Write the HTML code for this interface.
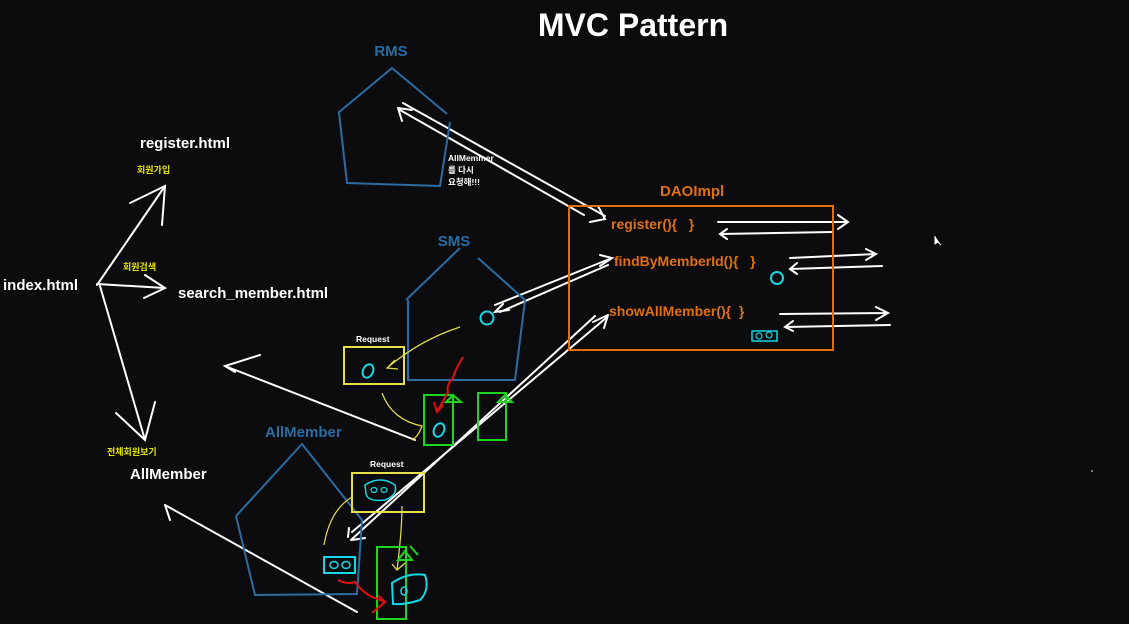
<!DOCTYPE html>
<html><head><meta charset="utf-8"><style>
html,body{margin:0;padding:0;background:#0c0b0d;}
svg{display:block;}
text{font-family:"Liberation Sans","Noto Sans CJK KR",sans-serif;font-weight:bold;}
</style></head><body>
<svg width="1129" height="624" viewBox="0 0 1129 624" xmlns="http://www.w3.org/2000/svg">
<rect width="1129" height="624" fill="#0c0b0d"/>
<text x="633" y="36" fill="#fff" font-size="32" text-anchor="middle">MVC Pattern</text>

<!-- left page labels -->
<text x="140" y="148" fill="#fff" font-size="15">register.html</text>
<text x="137" y="173" fill="#e6e600" font-size="9">회원가입</text>
<text x="3" y="290" fill="#fff" font-size="15">index.html</text>
<text x="123" y="270" fill="#e6e600" font-size="9">회원검색</text>
<text x="178" y="298" fill="#fff" font-size="15">search_member.html</text>
<text x="107" y="455" fill="#e6e600" font-size="9">전체회원보기</text>
<text x="130" y="479" fill="#fff" font-size="15">AllMember</text>

<g stroke="#fff" stroke-width="2" fill="none" stroke-linecap="round">
<path d="M97 285 L165 186 M130 203 L165 186 L162 225"/>
<path d="M97 284 L165 288 M145 275 L165 288 L144 298"/>
<path d="M100 286 L145 440 M116 413 L145 440 L155 402"/>
<path d="M415 440 L225 366 M260 355 L225 366 L235 372"/>
<path d="M357 612 L165 505 M165 505 L170 520"/>
<!-- RMS double -->
<path d="M403 103 L605 216 M400 110 L584 215 M398 108 L402 121 M398 108 L412 110 M590 222 L605 219 L598 206"/>
<!-- SMS double -->
<path d="M612 258 L495 305 M608 265 L500 312 M600 255 L612 258 L600 266 M503 304 L495 312 L509 310"/>
<!-- AllMember double -->
<path d="M606 318 L352 532 M595 316 L351 540 M608 315 L593 322 M608 315 L604 328 M349 528 L348 537 M352 540 L365 538"/>
<!-- DAO side arrows -->
<path d="M718 222 L848 222 M838 215 L848 222 L838 229 M832 232 L720 234 M727 229 L720 234 L727 239"/>
<path d="M790 258 L876 254 M866 249 L876 254 L866 260 M882 266 L790 269 M797 263 L790 269 L797 274"/>
<path d="M780 314 L888 313 M876 307 L888 313 L876 320 M890 325 L785 327 M793 321 L785 327 L793 331"/>
</g>

<!-- blue pentagons -->
<g stroke="#2a6ca3" stroke-width="2" fill="none">
<path d="M338 113 L392 68 L447 114 M450 122 L440 186 L347 183 L339 113"/>
<path d="M406 300 L460 248 M478 258 L525 300 M525 300 L515 380 L408 380 L408 300"/>
<path d="M236 516 L302 444 L362 520 L357 594 L255 595 L236 516"/>
</g>
<text x="391" y="56" fill="#2a6ca3" font-size="15" text-anchor="middle">RMS</text>
<text x="454" y="246" fill="#2a6ca3" font-size="15" text-anchor="middle">SMS</text>
<text x="265" y="437" fill="#2a6ca3" font-size="15">AllMember</text>
<text x="448" y="161" fill="#fff" font-size="8.5">AllMemmer</text>
<text x="448" y="173" fill="#fff" font-size="8.5">를 다시</text>
<text x="448" y="185" fill="#fff" font-size="8.5">요청해!!!</text>

<!-- DAOImpl -->
<rect x="569" y="206" width="264" height="144" fill="none" stroke="#e07010" stroke-width="2"/>
<text x="660" y="196" fill="#e07010" font-size="15">DAOImpl</text>
<text x="611" y="229" fill="#e07010" font-size="14">register(){&#160;&#160;&#160;}</text>
<text x="614" y="266" fill="#e07010" font-size="14">findByMemberId(){&#160;&#160;&#160;}</text>
<text x="609" y="316" fill="#e07010" font-size="14">showAllMember(){&#160;&#160;}</text>
<circle cx="777" cy="278" r="6" fill="none" stroke="#17d8e6" stroke-width="2"/>
<rect x="752" y="331" width="25" height="10" fill="none" stroke="#17d8e6" stroke-width="1.5"/>
<circle cx="759" cy="336" r="3" fill="none" stroke="#17d8e6" stroke-width="1.2"/>
<circle cx="769" cy="335" r="3" fill="none" stroke="#17d8e6" stroke-width="1.2"/>

<!-- SMS internals -->
<circle cx="487" cy="318" r="6.5" fill="none" stroke="#17d8e6" stroke-width="2"/>
<rect x="344" y="347" width="60" height="37" fill="none" stroke="#e6e04a" stroke-width="2"/>
<text x="356" y="342" fill="#fff" font-size="8.5">Request</text>
<ellipse cx="368" cy="371" rx="5" ry="7" transform="rotate(25 368 371)" fill="none" stroke="#17d8e6" stroke-width="2"/>
<g stroke="#e6e04a" stroke-width="1.2" fill="none">
<path d="M460 327 Q420 340 387 368 M395 360 L387 368 L398 369"/>
<path d="M382 393 Q392 420 422 426 Q418 437 412 440"/>
<path d="M402 506 Q402 530 397 570 M392 564 L397 570 L405 563"/>
<path d="M324 545 Q330 510 352 497"/>
</g>
<rect x="424" y="395" width="29" height="50" fill="none" stroke="#1ed61e" stroke-width="2"/>
<path d="M453 400 L453 445 M446 402 L453 395 L461 402 Z" fill="none" stroke="#1ed61e" stroke-width="2"/>
<rect x="478" y="393" width="28" height="47" fill="none" stroke="#1ed61e" stroke-width="2"/>
<path d="M498 402 L505 395 L512 402 Z" fill="none" stroke="#1ed61e" stroke-width="2"/>
<ellipse cx="439" cy="430" rx="5" ry="7" transform="rotate(25 439 430)" fill="none" stroke="#17d8e6" stroke-width="2"/>
<path d="M463 357 Q455 370 453 378 Q446 385 448 392 L437 412 M434 402 L437 412 L443 405" fill="none" stroke="#e01010" stroke-width="2"/>

<!-- AllMember internals -->
<rect x="352" y="473" width="72" height="39" fill="none" stroke="#e6e04a" stroke-width="2"/>
<text x="370" y="467" fill="#fff" font-size="8.5">Request</text>
<path d="M365 485 Q380 475 395 485 Q398 495 385 500 Q368 502 366 494 Z" fill="none" stroke="#17d8e6" stroke-width="1.5"/>
<ellipse cx="374" cy="490" rx="3" ry="2.5" fill="none" stroke="#17d8e6" stroke-width="1.2"/>
<ellipse cx="384" cy="490" rx="3" ry="2.5" fill="none" stroke="#17d8e6" stroke-width="1.2"/>
<rect x="324" y="557" width="31" height="16" fill="none" stroke="#17d8e6" stroke-width="2"/>
<ellipse cx="334" cy="565" rx="4" ry="3.5" fill="none" stroke="#17d8e6" stroke-width="1.5"/>
<ellipse cx="346" cy="565" rx="4" ry="3.5" fill="none" stroke="#17d8e6" stroke-width="1.5"/>
<rect x="377" y="547" width="29" height="72" fill="none" stroke="#1ed61e" stroke-width="2"/>
<path d="M398 560 L405 551 L412 560 Z M410 546 L418 555" fill="none" stroke="#1ed61e" stroke-width="2"/>
<path d="M392 583 Q408 572 425 575 Q430 590 420 600 Q405 605 393 604 Z" fill="none" stroke="#17d8e6" stroke-width="2"/>
<ellipse cx="404" cy="591" rx="3" ry="4" fill="none" stroke="#17d8e6" stroke-width="1.5"/>
<path d="M338 580 Q348 585 355 582 Q362 592 372 597 L385 602 L372 613 M378 595 L385 602" fill="none" stroke="#e01010" stroke-width="2"/>

<!-- cursor -->
<path d="M935 236 L935 244 L938 242 L941 245" fill="#fff" stroke="#fff" stroke-width="1"/>
<circle cx="1092" cy="471" r="0.8" fill="#fff"/>
</svg>
</body></html>
